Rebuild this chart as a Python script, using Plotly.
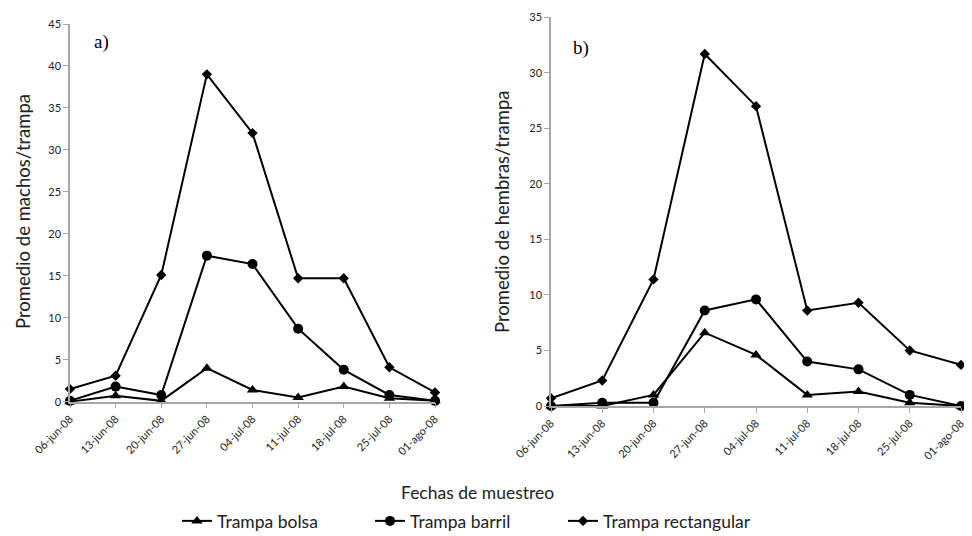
import plotly.graph_objects as go

fechas = ["06-jun-08", "13-jun-08", "20-jun-08", "27-jun-08", "04-jul-08",
          "11-jul-08", "18-jul-08", "25-jul-08", "01-ago-08"]

machos_bolsa = [0.0, 0.7, 0.1, 4.0, 1.4, 0.5, 1.8, 0.4, 0.1]
machos_barril = [0.1, 1.8, 0.8, 17.4, 16.4, 8.7, 3.8, 0.8, 0.1]
machos_rect = [1.5, 3.1, 15.1, 39.0, 32.0, 14.7, 14.7, 4.1, 1.1]

hembras_bolsa = [0.0, 0.0, 1.0, 6.6, 4.6, 1.0, 1.3, 0.3, 0.0]
hembras_barril = [0.0, 0.3, 0.3, 8.6, 9.6, 4.0, 3.3, 1.0, 0.0]
hembras_rect = [0.7, 2.3, 11.4, 31.7, 27.0, 8.6, 9.3, 5.0, 3.7]

series_names = ["Trampa bolsa", "Trampa barril", "Trampa rectangular"]
symbols = ["triangle-up", "circle", "diamond"]
sizes = [10, 10, 8]

# page body has an 8px margin: size the figure to the visible window
OFF = 8
W, H = 972 - OFF, 536 - OFF


def fx(p):
    return (p - OFF) / W


def fy(p):
    return 1 - (p - OFF) / H


xi = list(range(len(fechas)))

fig = go.Figure()
panels = [
    ("x", "y", [machos_bolsa, machos_barril, machos_rect], True),
    ("x2", "y2", [hembras_bolsa, hembras_barril, hembras_rect], False),
]
legends = ["legend", "legend2", "legend3"]
for xa, ya, data, show in panels:
    for i, vals in enumerate(data):
        fig.add_trace(go.Scatter(
            x=xi, y=vals, xaxis=xa, yaxis=ya, mode="lines+markers",
            name=series_names[i], showlegend=show, legend=legends[i],
            line=dict(color="black", width=2),
            marker=dict(symbol=symbols[i], size=sizes[i], color="black"),
            cliponaxis=False,
        ))

font = "Lato, 'Open Sans', sans-serif"
axis_common = dict(showgrid=False, zeroline=False, showline=True,
                   linecolor="#a6a6a6", linewidth=1.5, ticks="outside",
                   tickcolor="#a6a6a6", ticklen=5, automargin=False,
                   ticklabeloverflow="allow",
                   tickfont=dict(family=font, size=11, color="#222"))

xcommon = dict(axis_common, tickmode="array", tickvals=xi, ticktext=fechas,
               tickangle=-45, range=[0, 8])

leg_font = dict(family=font, size=17.5, color="#222")
leg_y = fy(521)


def leg(xpos):
    return dict(x=fx(xpos), y=leg_y, xanchor="left", yanchor="middle",
                orientation="h", font=leg_font, bgcolor="rgba(0,0,0,0)")


title_font = dict(family=font, size=17.5, color="#222")
ytitle_font = dict(family=font, size=18.5, color="#222")
letter_font = dict(family="'Liberation Serif', serif", size=19, color="black")

fig.update_layout(
    width=W, height=H,
    margin=dict(l=0, r=0, t=0, b=0, autoexpand=False),
    paper_bgcolor="white", plot_bgcolor="white",
    font=dict(family=font, color="#222"),
    xaxis=dict(xcommon, domain=[fx(70), fx(435)], anchor="y"),
    yaxis=dict(axis_common, domain=[fy(401.7), fy(24)], range=[0, 45],
               dtick=5, anchor="x"),
    xaxis2=dict(xcommon, domain=[fx(551), fx(961)], anchor="y2"),
    yaxis2=dict(axis_common, domain=[fy(406), fy(17.3)], range=[0, 35],
                dtick=5, anchor="x2"),
    legend=leg(177),
    legend2=leg(370),
    legend3=leg(563),
    annotations=[
        dict(text="Promedio de machos/trampa", x=fx(23), y=fy(212),
             xref="paper", yref="paper", textangle=-90, showarrow=False,
             xanchor="center", yanchor="middle", font=ytitle_font),
        dict(text="Promedio de hembras/trampa", x=fx(502), y=fy(212),
             xref="paper", yref="paper", textangle=-90, showarrow=False,
             xanchor="center", yanchor="middle", font=ytitle_font),
        dict(text="Fechas de muestreo", x=fx(477), y=fy(492),
             xref="paper", yref="paper", showarrow=False,
             xanchor="center", yanchor="middle", font=title_font),
        dict(text="a)", x=fx(101.5), y=fy(42.5), xref="paper", yref="paper",
             showarrow=False, xanchor="center", yanchor="middle",
             font=letter_font),
        dict(text="b)", x=fx(581), y=fy(48.5), xref="paper", yref="paper",
             showarrow=False, xanchor="center", yanchor="middle",
             font=letter_font),
    ],
)

fig.write_html("out.html")
